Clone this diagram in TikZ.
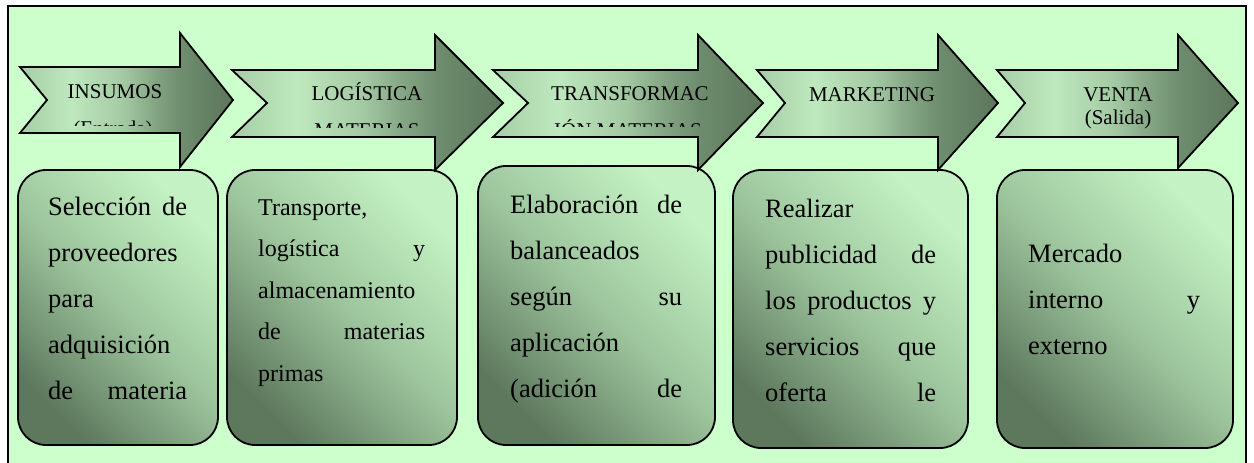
\documentclass[tikz,border=0pt]{standalone}
\usepackage{fontspec}
\setmainfont{Liberation Serif}
\definecolor{bgc}{HTML}{CCFFCC}
\definecolor{blight}{HTML}{C4F2C4}
\definecolor{bmid}{HTML}{9CC49C}
\definecolor{bdark}{HTML}{5E785E}
\definecolor{aa}{HTML}{A6CEA6}
\definecolor{ab}{HTML}{BEE8BE}
\definecolor{ac}{HTML}{A4CAA4}
\definecolor{ad}{HTML}{86A886}
\definecolor{ae}{HTML}{6E8C6E}
\definecolor{af}{HTML}{5C765C}
\pgfdeclareverticalshading{boxshade}{100bp}{color(0bp)=(bdark); color(25bp)=(bdark); color(50bp)=(bmid); color(75bp)=(blight); color(100bp)=(blight)}
\pgfdeclarehorizontalshading{arrowshade}{100bp}{color(0bp)=(aa); color(25bp)=(aa); color(37bp)=(ab); color(49bp)=(ac); color(56bp)=(ad); color(63bp)=(ae); color(75bp)=(af); color(100bp)=(af)}
\tikzset{
  procbox/.style={draw=black, line width=1.8pt, rounded corners=28pt, shading=boxshade, shading angle=-45, inner sep=0pt},
  chev/.style={draw=black, line width=1.8pt, line join=miter, shading=arrowshade},
  atext/.style={font=\fontsize{21}{25}\selectfont, inner sep=0pt, anchor=base},
  ltext/.style={inner sep=0pt, anchor=base west},
}
\newcommand\boxlines[6]{% name, x, y0, dy, width, list
  \foreach \t [count=\i] in {#6}{%
    \node[ltext] (#1-\i) at (#2, {#3+(\i-1)*#4}) {\makebox[#5pt][l]{\t}};
  }%
}
\begin{document}
\begin{tikzpicture}[x=1pt, y=-1pt]
\useasboundingbox (0,0) rectangle (1254,463);
\fill[white] (0,0) rectangle (1254,463);
\fill[bgc] (8,6) rectangle (1246,470);
\draw[line width=2.5pt] (8,470) -- (8,6) -- (1246,6) -- (1246,470);

% boxes
\node[procbox, minimum width=200pt, minimum height=275pt] (b1) at (118,307.5) {};
\node[procbox, minimum width=230pt, minimum height=275pt] (b2) at (342,307.5) {};
\node[procbox, minimum width=237pt, minimum height=279pt] (b3) at (596.5,305.5) {};
\node[procbox, minimum width=235pt, minimum height=278pt] (b4) at (850.5,309) {};
\node[procbox, minimum width=236pt, minimum height=278pt] (b5) at (1115,309) {};

% arrows
\shade[chev] (20,67) -- (180,67) -- (180,33) -- (233,100) -- (180,167) -- (180,133) -- (20,133) -- (47,100) -- cycle;
\shade[chev] (232,70) -- (435,70) -- (435,35) -- (503,103) -- (435,170) -- (435,137) -- (232,137) -- (267,103) -- cycle;
\shade[chev] (493,70) -- (698,70) -- (698,35) -- (763,103) -- (698,170) -- (698,137) -- (493,137) -- (528,103) -- cycle;
\shade[chev] (757,70) -- (938,70) -- (938,35) -- (998,103) -- (938,170) -- (938,137) -- (757,137) -- (785,103) -- cycle;
\shade[chev] (997,70) -- (1178,70) -- (1178,35) -- (1238,103) -- (1178,168) -- (1178,137) -- (997,137) -- (1025,103) -- cycle;

% arrow texts
\node[atext] (a1) at (115,98) {INSUMOS};
\node[atext] (a2) at (367,100) {LOGÍSTICA};
\node[atext] (a3) at (630,100) {TRANSFORMAC};
\node[atext] (a4) at (872,101) {MARKETING};
\node[atext] (a5) at (1118,101) {VENTA};
\node[atext] (a5b) at (1118,124) {(Salida)};
\begin{scope}
  \clip (40,110) rectangle (200,125.5);
  \node[atext] (a1b) at (113,135) {(Entrada)};
\end{scope}
\begin{scope}
  \clip (280,110) rectangle (450,127);
  \node[atext] (a2b) at (367,137) {MATERIAS};
\end{scope}
\begin{scope}
  \clip (530,110) rectangle (720,126);
  \node[atext] (a3b) at (628,137) {IÓN MATERIAS};
\end{scope}

% box texts
\begin{scope}[every node/.append style={font=\fontsize{26.5}{30}\selectfont}]
\boxlines{t1}{48}{215}{46}{139}{{Selección\hfill de},{proveedores},{para},{adquisición},{de\hfill materia}}
\boxlines{t3}{510}{213}{46}{172}{{Elaboración\hfill de},{balanceados},{según\hfill su},{aplicación},{(adición\hfill de}}
\boxlines{t4}{765}{217}{46}{171}{{Realizar},{publicidad\hfill de},{los\hfill productos\hfill y},{servicios\hfill que},{oferta\hfill le}}
\boxlines{t5}{1028}{262}{46}{172}{{Mercado},{interno\hfill y},{externo}}
\end{scope}
\begin{scope}[every node/.append style={font=\fontsize{24}{28}\selectfont}]
\boxlines{t2}{258}{215}{41.5}{167}{{Transporte,},{logística\hfill y},{almacenamiento},{de\hfill materias},{primas}}
\end{scope}
\end{tikzpicture}
\end{document}
